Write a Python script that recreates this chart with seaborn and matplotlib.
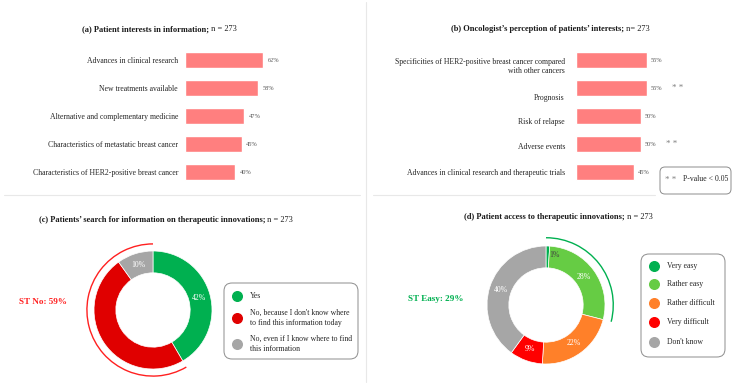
import matplotlib
matplotlib.use("Agg")
import matplotlib.pyplot as plt
import matplotlib.transforms as mtransforms
from matplotlib.patches import FancyBboxPatch, Arc
import seaborn as sns
import pandas as pd
import numpy as np

# ---------------- data ----------------
a_labels = ["Advances in clinical research", "New treatments available",
            "Alternative and complementary medicine",
            "Characteristics of metastatic breast cancer",
            "Characteristics of HER2-positive breast cancer"]
a_values = [62, 58, 47, 45, 40]

b_labels = ["Specificities of HER2-positive breast cancer compared\nwith other cancers",
            "Prognosis", "Risk of relapse", "Adverse events",
            "Advances in clinical research and therapeutic trials"]
b_values = [55, 55, 50, 50, 45]
b_signif = ["", "**", "", "**", ""]

c_labels = ["Yes", "No, because I don't know where\nto find this information today",
            "No, even if I know where to find\nthis information"]
c_values = [42, 49, 10]
c_shown = ["42%", "", "10%"]
c_st_label = "ST No: 59%"

d_labels = ["Very easy", "Rather easy", "Rather difficult", "Very difficult", "Don't know"]
d_values = [1, 28, 22, 9, 40]
d_shown = ["1%", "28%", "22%", "9%", "40%"]
d_st_label = "ST Easy: 29%"

titles_bold = ["(a) Patient interests in information;",
               "(b) Oncologist\u2019s perception of patients\u2019 interests;",
               "(c) Patients\u2019 search for information on therapeutic innovations;",
               "(d) Patient access to therapeutic innovations;"]
titles_n = [" n = 273", " n= 273", " n = 273", " n = 273"]

# ---------------- style ----------------
sns.set_theme(style="white")
plt.rcParams["font.family"] = ["Liberation Serif", "DejaVu Serif"]

W, H = 735, 384
fig = plt.figure(figsize=(W / 100, H / 100), dpi=100)
fig.patch.set_facecolor("white")

BAR = "#ff7f7f"
c_colors = ["#00b050", "#e00000", "#a6a6a6"]
d_colors = ["#00b050", "#66cc44", "#ff8029", "#ff0000", "#a6a6a6"]


def rect(x0, y0, x1, y1):
    """pixel box (top-left origin) -> figure fraction rect"""
    return [x0 / W, 1 - y1 / H, (x1 - x0) / W, (y1 - y0) / H]


def bar_panel(x0, scale, labels, values, pad, offsets=None):
    ax = fig.add_axes(rect(x0, 46, x0 + 100 * scale, 186))
    df = pd.DataFrame({"label": labels, "value": values})
    sns.barplot(data=df, x="value", y="label", color=BAR, width=0.54,
                saturation=1, ax=ax)
    ax.set_xlim(0, 100)
    ax.set_xlabel("")
    ax.set_ylabel("")
    ax.set_xticks([])
    for s in ax.spines.values():
        s.set_visible(False)
    ax.tick_params(axis="y", length=0, pad=pad, labelsize=5.6)
    for t in ax.get_yticklabels():
        t.set_color("#262626")
    if offsets:
        for t, off in zip(ax.get_yticklabels(), offsets):
            t.set_transform(t.get_transform() +
                            mtransforms.ScaledTranslation(0, -off / 100, fig.dpi_scale_trans))
    ax.bar_label(ax.containers[0], labels=[f"{v}%" for v in values],
                 padding=3, fontsize=4.6, color="#595959")
    ax.set_facecolor("none")
    return ax


ax_a = bar_panel(185, 1.26, a_labels, a_values, pad=5)
ax_b = bar_panel(576, 1.29, b_labels, b_values, pad=8, offsets=[5, 9, 5, 2, 0])
for i, (v, s) in enumerate(zip(b_values, b_signif)):
    if s:
        ax_b.annotate("* *", xy=(v, i), xytext=(31, 0), textcoords="offset pixels",
                      ha="center", va="center", fontsize=6.5, color="#7f7f7f")


def donut(cx, cy, values, colors, shown, arc_from, arc_to, arc_color, arc_r):
    half = 75
    ax = fig.add_axes(rect(cx - half, cy - half, cx + half, cy + half))
    lim = half / 59
    wedges, _ = ax.pie(values, colors=colors, startangle=90, counterclock=False,
                       radius=1, wedgeprops=dict(width=0.37, edgecolor="white", linewidth=0.5))
    ax.set_xlim(-lim, lim)
    ax.set_ylim(-lim, lim)
    ax.set_aspect("equal")
    ax.axis("off")
    for w, s in zip(wedges, shown):
        if not s:
            continue
        ang = np.deg2rad((w.theta1 + w.theta2) / 2)
        r = 0.8
        x, y = r * np.cos(ang), r * np.sin(ang)
        if w.theta2 - w.theta1 < 10:
            ax.text(x + 0.03, y + 0.05, s, ha="left", va="center", fontsize=5.6, color="#404040")
        else:
            ax.text(x, y, s, ha="center", va="center", fontsize=5.6, color="white")
    ax.add_patch(Arc((0, 0), 2 * arc_r, 2 * arc_r, theta1=arc_from, theta2=arc_to,
                     color=arc_color, lw=1.0))
    return ax, wedges


st_c = sum(c_values[1:])
donut(153, 310, c_values, c_colors, c_shown, 90, 90 + 360 * st_c / sum(c_values),
      "#ff2020", 1.12)
st_d = sum(d_values[:2])
donut(546, 305, d_values, d_colors, d_shown, 90 - 360 * st_d / sum(d_values), 90,
      "#00b050", 1.14)

# ---------------- overlay (pixel coordinates) ----------------
ov = fig.add_axes([0, 0, 1, 1], zorder=-1)
ov.set_xlim(0, W)
ov.set_ylim(H, 0)
ov.axis("off")
ov2 = fig.add_axes([0, 0, 1, 1], zorder=5)
ov2.set_xlim(0, W)
ov2.set_ylim(H, 0)
ov2.axis("off")
ov2.patch.set_alpha(0)

sep = "#e8e8e8"
ov.plot([366, 366], [2, 382], color=sep, lw=0.8)
ov.plot([4, 360], [195, 195], color=sep, lw=0.8)
ov.plot([373, 655], [195, 195], color=sep, lw=0.8)

# titles
title_pos = [(82, 28), (451, 28), (39, 219), (464, 216)]
fig.canvas.draw()
renderer = fig.canvas.get_renderer()
for (x, y), tb, tn in zip(title_pos, titles_bold, titles_n):
    t1 = ov2.text(x, y, tb, ha="left", va="center_baseline", fontsize=6.0,
                  fontweight="bold", color="#1a1a1a")
    bb = t1.get_window_extent(renderer=renderer)
    x1 = ov2.transData.inverted().transform((bb.x1, bb.y0))[0]
    ov2.text(x1, y, tn, ha="left", va="center_baseline", fontsize=6.0, color="#1a1a1a")

# ST labels
ov2.text(43, 302, c_st_label, ha="center", va="center", fontsize=6.6,
         fontweight="bold", color="#ff2020")
ov2.text(436, 299, d_st_label, ha="center", va="center", fontsize=6.6,
         fontweight="bold", color="#00b050")


def legend_box(x0, y0, x1, y1, labels, colors, ys, cx, tx):
    ov2.add_patch(FancyBboxPatch((x0, y0), x1 - x0, y1 - y0,
                                 boxstyle="round,pad=0,rounding_size=8",
                                 fc="white", ec="#8c8c8c", lw=0.7))
    for lab, col, yy in zip(labels, colors, ys):
        ov2.scatter([cx], [yy], s=48, color=col, zorder=6)
        ov2.text(tx, yy, lab, ha="left", va="center", fontsize=5.6,
                 color="#262626", linespacing=1.4)


legend_box(224, 283, 358, 359, c_labels, c_colors, [296, 318, 344], 237, 250)
legend_box(641, 254, 725, 357, d_labels, d_colors, [266, 284, 303, 322, 342], 654, 667)

# p-value legend
ov2.add_patch(FancyBboxPatch((660, 167), 71, 27, boxstyle="round,pad=0,rounding_size=5",
                             fc="white", ec="#8c8c8c", lw=0.7))
ov2.text(671, 180, "* *", ha="center", va="center", fontsize=6.5, color="#7f7f7f")
ov2.text(683, 179, "P-value < 0.05", ha="left", va="center", fontsize=5.6, color="#262626")

fig.savefig("out.png", dpi=100, facecolor="white")
